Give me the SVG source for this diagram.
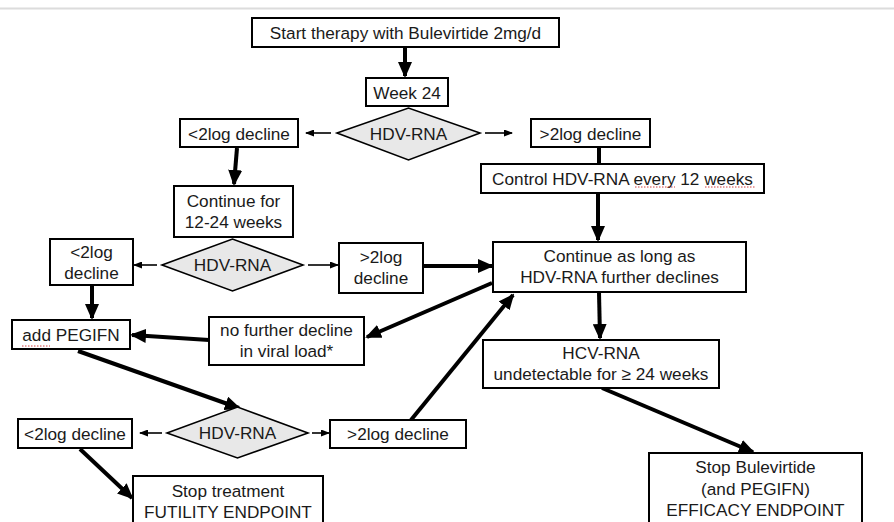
<svg xmlns="http://www.w3.org/2000/svg" width="894" height="522" viewBox="0 0 894 522">
<style>
.box{fill:#fff;stroke:#000;stroke-width:2}
.dia{fill:#e8e8e8;stroke:#000;stroke-width:1.6}
text{font-family:"Liberation Sans",Arial,sans-serif;font-size:17.2px;fill:#1a1a1a;text-anchor:middle}
.thick{stroke:#000;stroke-width:4;fill:none}
.thin{stroke:#000;stroke-width:1.6;fill:none}
.spell{stroke:#d04040;stroke-width:1;fill:none;stroke-dasharray:1.5 1.5}
</style>
<defs>
<marker id="big" markerWidth="16" markerHeight="14" refX="14" refY="7" orient="auto" markerUnits="userSpaceOnUse"><path d="M0,0 L16,7 L0,14 z" fill="#000"/></marker>
<marker id="small" markerWidth="9" markerHeight="7" refX="8" refY="3.5" orient="auto" markerUnits="userSpaceOnUse"><path d="M0,0 L9,3.5 L0,7 z" fill="#000"/></marker>
</defs>
<rect x="0" y="0" width="894" height="522" fill="#fff"/>
<line x1="0" y1="8.5" x2="894" y2="8.5" stroke="#dcdcdc" stroke-width="2"/>

<g id="connectors">
<line class="thick" x1="405" y1="47" x2="405" y2="76" marker-end="url(#big)"/>
<line class="thin" x1="331" y1="133" x2="306" y2="133" marker-end="url(#small)"/>
<line class="thin" x1="485" y1="133" x2="512" y2="133" marker-end="url(#small)"/>
<line class="thick" x1="599" y1="147" x2="599" y2="164"/>
<line class="thick" x1="598" y1="193" x2="598" y2="240" marker-end="url(#big)"/>
<line class="thick" x1="237" y1="148" x2="234" y2="184" marker-end="url(#big)"/>
<line class="thin" x1="157" y1="265" x2="134" y2="265" marker-end="url(#small)"/>
<line class="thin" x1="308" y1="265" x2="338" y2="265" marker-end="url(#small)"/>
<line class="thick" x1="423" y1="266" x2="492" y2="266" marker-end="url(#big)"/>
<line class="thick" x1="92" y1="285" x2="92" y2="318" marker-end="url(#big)"/>
<line class="thick" x1="492" y1="283" x2="367" y2="337" marker-end="url(#big)"/>
<line class="thick" x1="209" y1="340" x2="132" y2="335" marker-end="url(#big)"/>
<line class="thick" x1="78" y1="351" x2="239" y2="408" marker-end="url(#big)"/>
<line class="thin" x1="162" y1="433" x2="140" y2="433" marker-end="url(#small)"/>
<line class="thin" x1="312" y1="433" x2="329" y2="433" marker-end="url(#small)"/>
<line class="thick" x1="411" y1="420" x2="513" y2="295" marker-end="url(#big)"/>
<line class="thick" x1="80" y1="449" x2="132" y2="498" marker-end="url(#big)"/>
<line class="thick" x1="599" y1="292" x2="600" y2="338" marker-end="url(#big)"/>
<line class="thick" x1="602" y1="388" x2="753" y2="452" marker-end="url(#big)"/>
</g>

<g id="start"><rect class="box" x="252" y="18" width="307" height="29"/><text x="405.5" y="38.5">Start therapy with Bulevirtide 2mg/d</text></g>
<g id="week24"><rect class="box" x="366" y="78" width="82" height="28"/><text x="407" y="98.5">Week 24</text></g>
<g id="dia1"><polygon class="dia" points="337,133 408.5,108 480,133 408.5,160"/><text x="408.5" y="139.5">HDV-RNA</text></g>
<g id="lt1"><rect class="box" x="180" y="119" width="118" height="28"/><text x="239" y="139.5">&lt;2log decline</text></g>
<g id="gt1"><rect class="box" x="531" y="119" width="119" height="28"/><text x="590.5" y="139.5">&gt;2log decline</text></g>
<g id="control"><rect class="box" x="481" y="164" width="283" height="29"/><text x="622.5" y="184.5">Control HDV-RNA every 12 weeks</text>
<path class="spell" d="M635,187 L675,187 M705,187 L755,187"/></g>
<g id="cont12"><rect class="box" x="174" y="186" width="119" height="51"/><text x="233.5" y="207">Continue for</text><text x="233.5" y="228">12-24 weeks</text></g>
<g id="dia2"><polygon class="dia" points="162,265 232.5,239 303,265 232.5,291"/><text x="232.5" y="271">HDV-RNA</text></g>
<g id="lt2"><rect class="box" x="50" y="239" width="83" height="46"/><text x="91.5" y="258">&lt;2log</text><text x="91.5" y="279">decline</text></g>
<g id="gt2"><rect class="box" x="339" y="243" width="84" height="50"/><text x="381" y="263">&gt;2log</text><text x="381" y="284">decline</text></g>
<g id="contlong"><rect class="box" x="493" y="242" width="253" height="50"/><text x="619.5" y="262">Continue as long as</text><text x="619.5" y="283">HDV-RNA further declines</text></g>
<g id="peg"><rect class="box" x="12" y="320" width="118" height="29"/><text x="71" y="340.5">add PEGIFN</text>
<path class="spell" d="M22,346 L50,346"/></g>
<g id="nofurther"><rect class="box" x="209" y="317" width="155" height="48"/><text x="286.5" y="336">no further decline</text><text x="286.5" y="357">in viral load*</text></g>
<g id="hcv"><rect class="box" x="483" y="340" width="236" height="48"/><text x="601" y="359">HCV-RNA</text><text x="601" y="380">undetectable for ≥ 24 weeks</text></g>
<g id="dia3"><polygon class="dia" points="167,433 237.5,407 308,433 237.5,458"/><text x="237.5" y="439">HDV-RNA</text></g>
<g id="lt3"><rect class="box" x="18" y="419" width="114" height="29"/><text x="75" y="439.5">&lt;2log decline</text></g>
<g id="gt3"><rect class="box" x="330" y="420" width="136" height="28"/><text x="398" y="440">&gt;2log decline</text></g>
<g id="futility"><rect class="box" x="133" y="476" width="190" height="60"/><text x="228" y="497">Stop treatment</text><text x="228" y="518">FUTILITY ENDPOINT</text></g>
<g id="efficacy"><rect class="box" x="649" y="453" width="213" height="80"/><text x="755.5" y="473">Stop Bulevirtide</text><text x="755.5" y="495">(and PEGIFN)</text><text x="755.5" y="516">EFFICACY ENDPOINT</text></g>
</svg>
